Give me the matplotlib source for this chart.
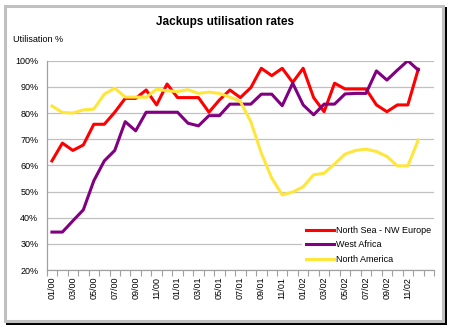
import matplotlib.pyplot as plt
import matplotlib.patches as mpatches
import numpy as np

plt.rcParams['font.family'] = ['Liberation Sans', 'DejaVu Sans']

# meses 01/00 .. 12/02
months = ['%02d/%02d' % (m, y) for y in range(0, 3) for m in range(1, 13)]

north_sea = [61.7, 68.5, 65.7, 67.8, 75.7, 75.7, 80.3, 85.6, 85.6, 88.8, 83.1, 91.1,
             85.9, 85.9, 85.9, 80.3, 85.0, 88.8, 85.9, 89.7, 97.1, 94.3, 97.1, 91.7,
             97.1, 85.9, 80.5, 91.4, 89.2, 89.2, 89.2, 83.1, 80.5, 83.1, 83.1, 96.8]
west_africa = [34.5, 34.5, 38.8, 43.0, 54.1, 61.7, 65.7, 76.7, 73.2, 80.3, 80.3, 80.3,
               80.3, 76.1, 75.1, 79.0, 79.0, 83.4, 83.4, 83.4, 87.2, 87.2, 82.8, 91.4,
               83.1, 79.3, 83.4, 83.4, 87.3, 87.5, 87.5, 96.1, 92.6, 96.4, 100.0, 96.4]
north_america = [82.7, 80.2, 80.0, 81.2, 81.5, 87.2, 89.5, 86.1, 86.1, 86.0, 89.1, 88.5,
                 88.2, 88.9, 87.5, 88.0, 87.5, 86.1, 84.4, 76.7, 64.7, 55.1, 48.7, 49.8,
                 51.8, 56.4, 57.0, 60.5, 64.3, 65.7, 66.2, 65.3, 63.4, 59.8, 59.8, 69.7]

fig = plt.figure(figsize=(4.52, 3.28), dpi=100)

# marco gris con sombra negra
fig.patches.append(mpatches.Rectangle((6.5 / 452, 1 - 325 / 328), 441 / 452, 318 / 328,
                                      transform=fig.transFigure, facecolor='black',
                                      edgecolor='none', zorder=0))
fig.patches.append(mpatches.Rectangle((5 / 452, 1 - 320.5 / 328), 438 / 452, 315 / 328,
                                      transform=fig.transFigure, facecolor='white',
                                      edgecolor='#c0c0c0', linewidth=2.2, zorder=1))

ax = fig.add_axes([46.7 / 452, 1 - 270 / 328, (434 - 46.7) / 452, (270 - 60.7) / 328])
ax.set_zorder(2)
ax.patch.set_alpha(0)

x = np.arange(len(months))
ax.plot(x, north_sea, color='#ff0000', lw=2.2, label='North Sea - NW Europe', zorder=3)
ax.plot(x, west_africa, color='#800080', lw=2.2, label='West Africa', zorder=3)
ax.plot(x, north_america, color='#ffe63c', lw=2.2, label='North America', zorder=3)

ax.set_xlim(-0.5, 36.5)
ax.set_ylim(20, 100)
ax.set_yticks(np.arange(20, 101, 10))
ax.set_yticklabels(['%d%%' % v for v in range(20, 101, 10)], fontsize=6.5)
ax.yaxis.grid(True, color='#c0c0c0', lw=0.9)
ax.set_axisbelow(True)
ax.tick_params(axis='y', length=0, pad=6)

ax.set_xticks(x[::2])
ax.set_xticklabels(months[::2], rotation=90, fontsize=6.5)
ax.set_xticks(np.arange(-0.5, 37, 1), minor=True)
ax.tick_params(axis='x', which='major', length=0, pad=5)
ax.tick_params(axis='x', which='minor', length=4, color='#a0a0a0', width=0.8)

for s in ['top', 'right']:
    ax.spines[s].set_visible(False)
for s in ['left', 'bottom']:
    ax.spines[s].set_color('#a0a0a0')
    ax.spines[s].set_linewidth(0.9)

leg = ax.legend(loc='upper left', bbox_to_anchor=(0.659, 0.232), borderaxespad=0,
                fontsize=6.5, frameon=True, facecolor='white', edgecolor='none',
                framealpha=1, fancybox=False, handlelength=3.1, handletextpad=0.2,
                labelspacing=0.6, borderpad=0.5)
leg.set_zorder(5)

fig.text(225 / 452, 1 - 21.5 / 328, 'Jackups utilisation rates', ha='center', va='center',
         fontsize=8.5, fontweight='bold')
fig.text(13 / 452, 1 - 39 / 328, 'Utilisation %', ha='left', va='center', fontsize=6.5)

fig.savefig('out.png', dpi=100)
